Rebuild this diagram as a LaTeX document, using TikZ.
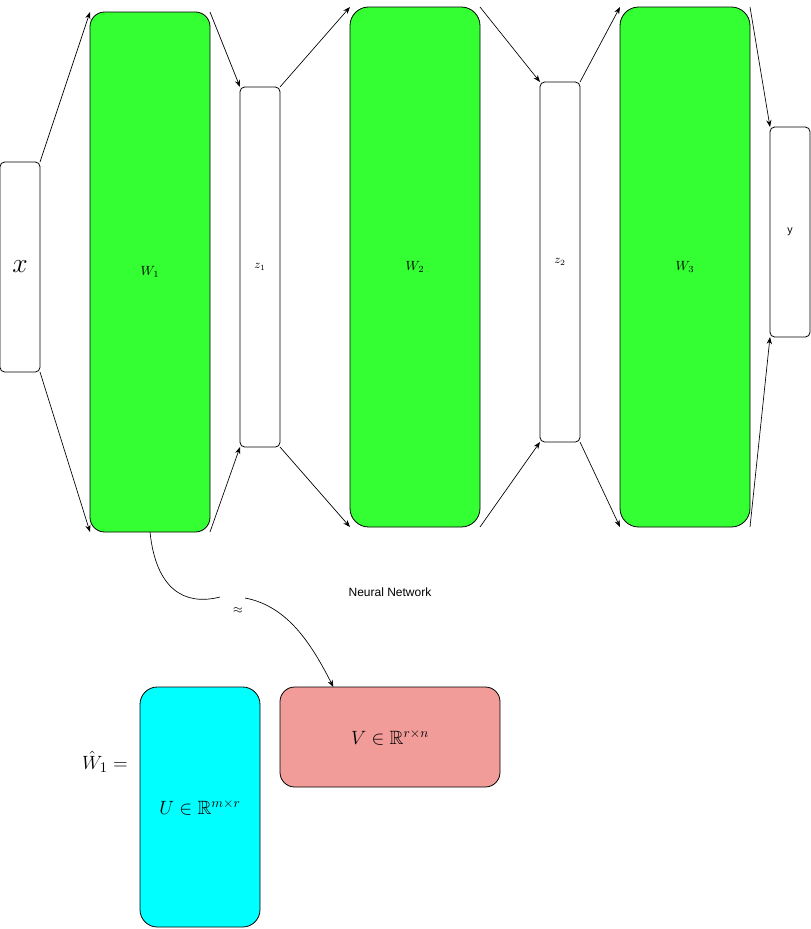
\documentclass[tikz,border=0pt]{standalone}
\usepackage{amsmath}
\usepackage{amssymb}
\usepackage{fontspec}
\setsansfont{Liberation Sans}
\usepackage{tikz}
\usetikzlibrary{arrows.meta, positioning, calc}
\definecolor{layergreen}{RGB}{51,255,51}
\definecolor{factorcyan}{RGB}{0,255,255}
\definecolor{factorpink}{RGB}{241,156,153}
\tikzset{
  vecbox/.style={rectangle, draw=black, fill=white, minimum width=30pt,
    inner sep=0pt, outer sep=0pt, rounded corners=3.5pt, line width=0.6pt},
  layerbox/.style={rectangle, draw=black, fill=layergreen, minimum width=97.5pt,
    minimum height=390pt, inner sep=0pt, outer sep=0pt, rounded corners=14pt,
    line width=0.6pt, font=\normalsize},
  arrow/.style={-Stealth, line width=0.5pt, color=black},
  line/.style={line width=0.5pt, color=black}
}

\begin{document}
\begin{tikzpicture}[x=0.75pt, y=-0.75pt,
  ubox/.style={rectangle, draw=black, fill=factorcyan, minimum width=90pt,
    minimum height=180pt, inner sep=0pt, outer sep=0pt, rounded corners=13pt,
    line width=0.6pt, font=\Large},
  vbox/.style={rectangle, draw=black, fill=factorpink, minimum width=165pt,
    minimum height=75pt, inner sep=0pt, outer sep=0pt, rounded corners=11pt,
    line width=0.6pt, font=\Large}
]
  \useasboundingbox (0,0) rectangle (811,929);

  % network: inputs, layers, hidden vectors, output
  \node[vecbox, minimum height=157.5pt, font=\huge] (x)  at (20, 267) {$x$};
  \node[layerbox, minimum width=90pt, rounded corners=11pt] (W1) at (150, 272) {$W_1$};
  \node[vecbox, minimum height=270pt, font=\small] (z1) at (260, 267) {$z_1$};
  \node[layerbox] (W2) at (415, 267) {$W_2$};
  \node[vecbox, minimum height=270pt, font=\small] (z2) at (560, 262) {$z_2$};
  \node[layerbox] (W3) at (685, 267) {$W_3$};
  \node[vecbox, minimum height=157.5pt, font=\sffamily\footnotesize] (y) at (790, 232) {y};

  % connections between neighbouring blocks
  \foreach \a/\b in {x/W1, W1/z1, z1/W2, W2/z2, z2/W3, W3/y} {
    \draw[arrow] (\a.north east) -- (\b.north west);
    \draw[arrow] (\a.south east) -- (\b.south west);
  }

  \node[font=\sffamily\small] (nn) at (390, 592) {Neural Network};

  % low-rank factors
  \node[font=\fontsize{15.5}{18}\selectfont] (What) at (105, 762) {$\hat{W}_1 =$};
  \node[ubox] (U) at (200, 807) {$U \in \mathbb{R}^{m\times r}$};
  \node[vbox] (V) at (390, 737) {$V \in \mathbb{R}^{r\times n}$};

  % approximation link
  \coordinate (gapl) at (220, 597);
  \coordinate (gapr) at (245, 598);
  \node[font=\small] (approx) at (238, 611) {$\approx$};
  \draw[line] (W1.south) .. controls (156, 590) and (185, 606) .. (gapl);
  \draw[arrow] (gapr) .. controls (288, 606) and (312, 645) .. ([xshift=40pt]V.north west);
\end{tikzpicture}
\end{document}
